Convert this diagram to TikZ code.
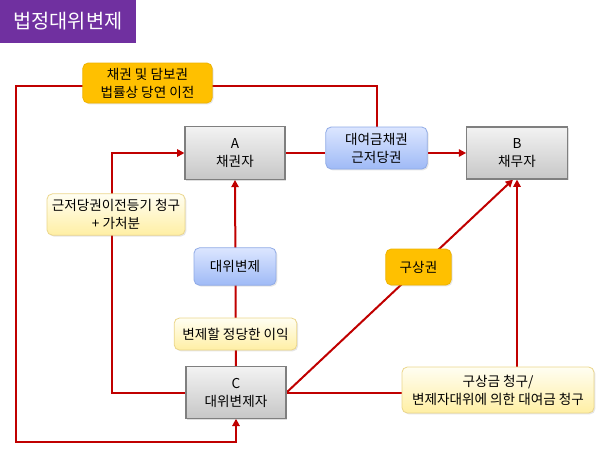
\documentclass[tikz,border=0pt]{standalone}
\usepackage{fontspec}
\setmainfont{Noto Sans CJK KR}
\usepackage{xcolor}
\usepackage{tikz}
\usetikzlibrary{positioning,arrows.meta,backgrounds,shadows}

\definecolor{titlepurple}{HTML}{7030A0}
\definecolor{linkred}{HTML}{C00000}
\definecolor{grayborder}{HTML}{7F7F7F}
\definecolor{bluetop}{HTML}{DCE6FF}
\definecolor{bluebot}{HTML}{9FBAF6}
\definecolor{blueborder}{HTML}{8FAAE6}
\definecolor{yellowtop}{HTML}{FFFEF2}
\definecolor{yellowbot}{HTML}{FFEFA4}
\definecolor{yellowborder}{HTML}{EBD68C}
\definecolor{keyorange}{HTML}{FFC000}
\definecolor{orangeborder}{HTML}{EEB300}

\begin{document}
\begin{tikzpicture}[x=0.75pt,y=-0.75pt,
    boxtext/.style={align=center,text=black,font=\fontsize{10.2}{13.5}\selectfont,inner sep=0pt},
    party/.style={boxtext,draw=grayborder,line width=0.8pt,top color=black!5,bottom color=black!22,
        drop shadow={opacity=0.25,shadow xshift=1pt,shadow yshift=-1pt}},
    bluebox/.style={boxtext,draw=blueborder,line width=0.6pt,rounded corners=4pt,top color=bluetop,bottom color=bluebot,
        drop shadow={opacity=0.2,shadow xshift=1pt,shadow yshift=-1pt}},
    notebox/.style={boxtext,draw=yellowborder,line width=0.6pt,rounded corners=4pt,top color=yellowtop,bottom color=yellowbot,
        drop shadow={opacity=0.2,shadow xshift=1pt,shadow yshift=-1pt}},
    keybox/.style={boxtext,draw=orangeborder,line width=0.6pt,rounded corners=4pt,fill=keyorange,
        drop shadow={opacity=0.2,shadow xshift=1pt,shadow yshift=-1pt}},
    link/.style={draw=linkred,line width=1.5pt},
    linkarrow/.style={link,-{Triangle[length=5.5pt,width=5.5pt]}}]

    \useasboundingbox (0,0) rectangle (600,451);

    % Title
    \node[fill=titlepurple,text=white,font=\fontsize{14.8}{18}\selectfont,
        minimum width=102pt,minimum height=32pt] (title) at (68,21.5) {법정대위변제};

    % Parties
    \node[party,minimum width=75pt,minimum height=39.5pt] (a) at (235,153) {A\\채권자};
    \node[party,minimum width=75.5pt,minimum height=39pt] (b) at (517,153) {B\\채무자};
    \node[party,minimum width=75pt,minimum height=38.5pt] (c) at (236,392.5) {C\\대위변제자};

    % Labels on the links
    \node[bluebox,minimum width=76pt,minimum height=31.5pt] (loan) at (376.5,148) {대여금채권\\근저당권};
    \node[bluebox,minimum width=61.5pt,minimum height=28pt] (subro) at (235,266.5) {대위변제};
    \node[keybox,minimum width=97pt,minimum height=30pt] (transfer) at (147.5,83) {채권 및 담보권\\법률상 당연 이전};
    \node[keybox,minimum width=49pt,minimum height=27pt] (recourse) at (418.5,267) {구상권};
    \node[notebox,minimum width=103.5pt,minimum height=31pt] (registry) at (116,214.5) {근저당권이전등기 청구\\+ 가처분};
    \node[notebox,minimum width=92pt,minimum height=24pt] (interest) at (235.5,334) {변제할 정당한 이익};
    \node[notebox,minimum width=144pt,minimum height=34.5pt] (claim) at (498,390) {구상금 청구/\\변제자대위에 의한 대여금 청구};

    % Bends of the outer loop
    \coordinate (topleft) at (16,86);
    \coordinate (botleft) at (16,442);
    \coordinate (leftbend) at (112,153);

    \begin{scope}[on background layer]
        % A -> loan -> B
        \draw[link] (a.east) -- (a.east -| loan.west);
        \draw[linkarrow] (b.west -| loan.east) -- (b.west);

        % Outer loop back to C
        \draw[linkarrow] (loan.north) |- (topleft) -- (botleft) -| (c.south);

        % C -> A
        \draw[linkarrow] (c.west) -| (leftbend) -- (a.west);
        \draw[linkarrow] (c.north) -- (a.south);

        % C -> B
        \draw[linkarrow] (c.east) -- ([xshift=-3pt]b.south);
        \draw[linkarrow] (c.east) -| (b.south);
    \end{scope}

\end{tikzpicture}
\end{document}
